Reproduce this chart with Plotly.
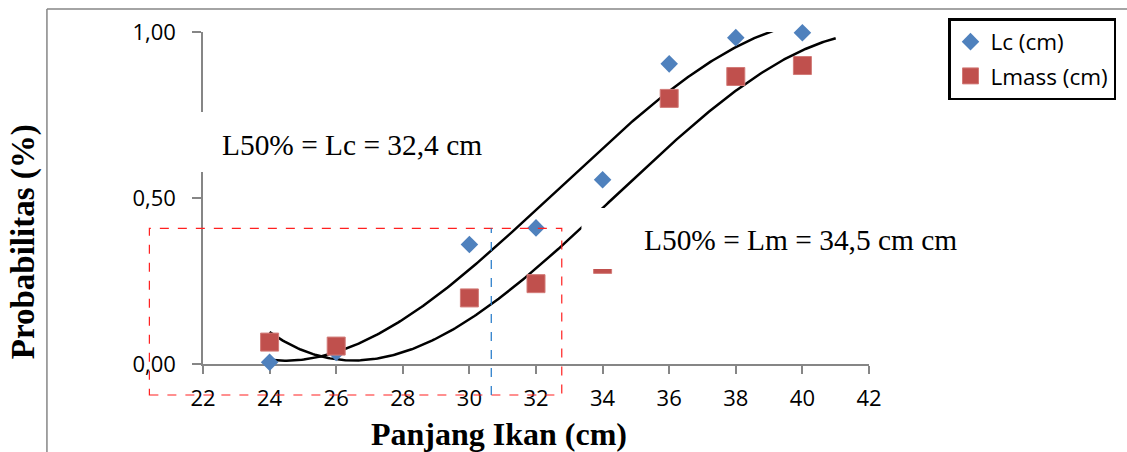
import numpy as np
import plotly.graph_objects as go

# ---- data ----
panjang = [24, 26, 30, 32, 34, 36, 38, 40]
lc_values = [0.005, 0.035, 0.36, 0.41, 0.555, 0.904, 0.983, 0.998]
lmass_values = [0.066, 0.054, 0.199, 0.242, 0.30, 0.80, 0.866, 0.899]
x_ticks = [22, 24, 26, 28, 30, 32, 34, 36, 38, 40, 42]
y_ticks = [0.0, 0.5, 1.0]
series_names = ["Lc (cm)", "Lmass (cm)"]
label_lc = "L50% = Lc = 32,4 cm"
label_lm = "L50% = Lm = 34,5 cm cm"
x_title = "Panjang Ikan (cm)"
y_title = "Probabilitas (%)"

# ---- layout geometry (pixels) ----
W, H = 1127, 452
L, R, T, B = 203, 257, 32, 88
PW, PH = W - L - R, H - T - B


def px(xp):
    return (xp - L) / PW


def py(yp):
    return (H - B - yp) / PH


BLUE = "#4F81BD"
RED = "#C0504D"
AXIS = "#868686"

fig = go.Figure()

# polynomial (order 3) trendlines, as in the source spreadsheet
xx = np.linspace(24, 41, 300)
for vals in (lc_values, lmass_values):
    coef = np.polyfit(panjang, vals, 3)
    fig.add_trace(go.Scatter(x=xx, y=np.polyval(coef, xx), mode="lines",
                             line=dict(color="black", width=2.5),
                             showlegend=False, hoverinfo="skip"))

fig.add_trace(go.Scatter(x=panjang, y=lc_values, mode="markers", name=series_names[0],
                         marker=dict(symbol="diamond", size=13.5, color=BLUE),
                         cliponaxis=False, legendgroup="a"))
fig.add_trace(go.Scatter(x=panjang, y=lmass_values, mode="markers", name=series_names[1],
                         marker=dict(symbol="square", size=18, color=RED,
                                     line=dict(color="#D27A77", width=1)),
                         cliponaxis=False, legendgroup="b"))

shapes = []
# outer frame (top & left)
shapes.append(dict(type="line", xref="paper", yref="paper", x0=px(46.7), x1=px(W + 5),
                   y0=py(9), y1=py(9), line=dict(color=AXIS, width=1.5)))
shapes.append(dict(type="line", xref="paper", yref="paper", x0=px(46.7), x1=px(46.7),
                   y0=py(9), y1=py(H + 5), line=dict(color=AXIS, width=1.5)))
# red dashed rectangle
shapes.append(dict(type="rect", xref="paper", yref="paper", x0=px(149.3), x1=px(562.3),
                   y0=py(395), y1=py(228.3), line=dict(color="#FF2020", width=1.2, dash="dash"),
                   layer="above"))
# blue dashed vertical
shapes.append(dict(type="line", xref="paper", yref="paper", x0=px(491.7), x1=px(491.7),
                   y0=py(395), y1=py(228.3), line=dict(color="#1F77C8", width=1.2, dash="dash"),
                   layer="above"))
# white text boxes
shapes.append(dict(type="rect", xref="paper", yref="paper", x0=px(195), x1=px(490),
                   y0=py(172), y1=py(112), fillcolor="white", line=dict(width=0), layer="above"))
shapes.append(dict(type="rect", xref="paper", yref="paper", x0=px(582), x1=px(975),
                   y0=py(269), y1=py(208), fillcolor="white", line=dict(width=0), layer="above"))

annotations = [
    dict(text=label_lc, xref="paper", yref="paper", x=px(352), y=py(145), showarrow=False,
         xanchor="center", yanchor="middle",
         font=dict(family="Liberation Serif", size=29.4, color="black")),
    dict(text=label_lm, xref="paper", yref="paper", x=px(801), y=py(240), showarrow=False,
         xanchor="center", yanchor="middle",
         font=dict(family="Liberation Serif", size=29.4, color="black")),
    dict(text="<b>" + x_title + "</b>", xref="paper", yref="paper", x=px(499), y=py(434),
         showarrow=False, xanchor="center", yanchor="middle",
         font=dict(family="Liberation Serif", size=32, color="black")),
    dict(text="<b>" + y_title + "</b>", xref="paper", yref="paper", x=px(23), y=py(242),
         textangle=-90, showarrow=False, xanchor="center", yanchor="middle",
         font=dict(family="Liberation Serif", size=33, color="black")),
]

fig.update_layout(
    width=W, height=H,
    margin=dict(l=L, r=R, t=T, b=B, pad=0),
    paper_bgcolor="white", plot_bgcolor="white",
    separators=", ",
    font=dict(family="Open Sans", size=22, color="black"),
    showlegend=True,
    legend=dict(x=px(948), y=py(18), xanchor="left", yanchor="top",
                bordercolor="black", borderwidth=2.5, bgcolor="white",
                font=dict(family="Open Sans", size=22.5, color="black"),
                tracegroupgap=2),
    shapes=shapes,
    annotations=annotations,
)
fig.update_xaxes(range=[22, 42], tickvals=x_ticks, showgrid=False, zeroline=False,
                 showline=True, linecolor=AXIS, linewidth=1.5,
                 ticks="outside", ticklen=8, tickcolor=AXIS, tickwidth=1.5,
                 ticklabelstandoff=6, layer="below traces",
                 tickfont=dict(family="Open Sans", size=22, color="black"))
fig.update_yaxes(range=[0, 1], tickvals=y_ticks, tickformat=".2f", showgrid=False,
                 zeroline=False, showline=True, linecolor=AXIS, linewidth=1.5,
                 ticks="outside", ticklen=9, tickcolor=AXIS, tickwidth=1.5,
                 ticklabelstandoff=12, layer="below traces",
                 tickfont=dict(family="Open Sans", size=22, color="black"))

fig.write_html("out.html", config={"displayModeBar": False},
               post_script="document.body.style.margin='0';")
